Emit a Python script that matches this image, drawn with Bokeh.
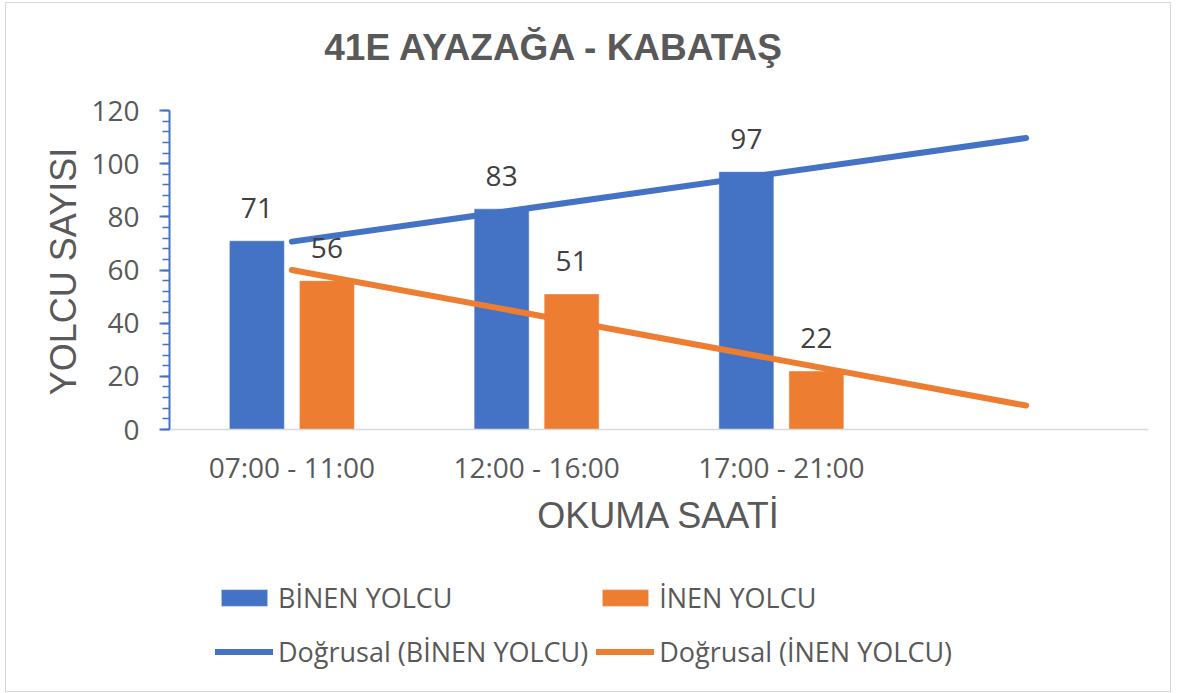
import numpy as np
from bokeh.plotting import figure
from bokeh.models import (ColumnDataSource, Legend, LegendItem, Label,
                          FixedTicker, SingleIntervalTicker, Range1d)
from bokeh.core.properties import value
from bokeh.embed import file_html
from bokeh.resources import INLINE

# ---------------- data ----------------
categories = ["07:00 - 11:00", "12:00 - 16:00", "17:00 - 21:00"]
binen_yolcu = [71, 83, 97]
inen_yolcu = [56, 51, 22]
series_names = ["BİNEN YOLCU", "İNEN YOLCU"]
trend_names = ["Doğrusal (BİNEN YOLCU)", "Doğrusal (İNEN YOLCU)"]
forecast_forward = 1  # Excel trendline "forward" periods
y_ticks_interval = 20
y_max = 120

title_text = "41E AYAZAĞA - KABATAŞ"
x_label = "OKUMA SAATİ"
y_label = "YOLCU SAYISI"

# ---------------- styles / layout (pixels, figure coords) ----------------
BLUE = "#4472C4"
ORANGE = "#ED7D31"
GREY_TXT = "#595959"
DARK_TXT = "#404040"
TICK_FONT = "Open Sans"
HEAD_FONT = "Liberation Sans"

W, H = 1166, 690
PLOT_L, PLOT_R = 163, 1142      # x-axis extent
PLOT_T, PLOT_B = 107, 426       # y-axis extent (y_max .. 0)

n_slots = len(categories) + forecast_forward
px_x = (PLOT_R - PLOT_L) / n_slots
px_y = (PLOT_B - PLOT_T) / y_max
x0 = 0.5 - PLOT_L / px_x
x1 = 0.5 + n_slots + (W - PLOT_R) / px_x
y1 = y_max + PLOT_T / px_y
y0 = -(H - PLOT_B) / px_y

def dx(px):   # figure px -> data x
    return 0.5 + (px - PLOT_L) / px_x

def dy(py):   # figure px -> data y
    return (PLOT_B - py) / px_y

x_idx = np.arange(1, len(categories) + 1)
bar_off = 35 / px_x
bar_w = 55 / px_x

p = figure(width=W, height=H, output_backend="svg", toolbar_location=None,
           x_range=Range1d(x0, x1), y_range=Range1d(y0, y1),
           min_border=0, min_border_left=0, min_border_right=0,
           min_border_top=0, min_border_bottom=0,
           background_fill_color="white", border_fill_color="white")
p.outline_line_color = None
p.grid.visible = False
p.styles = {"border": "1px solid #D9D9D9", "margin-left": "5px", "margin-top": "2px"}

src = ColumnDataSource(dict(
    xb=x_idx - bar_off, xi=x_idx + bar_off,
    b=binen_yolcu, i=inen_yolcu,
    bl=[str(v) for v in binen_yolcu], il=[str(v) for v in inen_yolcu]))

r_b = p.vbar(x="xb", top="b", width=bar_w, source=src, fill_color=BLUE,
             line_color="white", line_alpha=0.45, line_width=1)
r_i = p.vbar(x="xi", top="i", width=bar_w, source=src, fill_color=ORANGE,
             line_color="white", line_alpha=0.45, line_width=1)

# linear trendlines (least squares), extended forward
xt = np.array([x_idx[0], x_idx[-1] + forecast_forward], dtype=float)
cb = np.polyfit(x_idx, binen_yolcu, 1)
ci = np.polyfit(x_idx, inen_yolcu, 1)
r_tb = p.line(xt, np.polyval(cb, xt), line_color=BLUE, line_width=6, line_cap="round")
r_ti = p.line(xt, np.polyval(ci, xt), line_color=ORANGE, line_width=6, line_cap="round")

# data labels
for xcol, ycol, tcol in (("xb", "b", "bl"), ("xi", "i", "il")):
    p.text(x=xcol, y=ycol, text=tcol, source=src, text_align="center",
           text_baseline="alphabetic", y_offset=-33,
           text_font=value(TICK_FONT), text_font_size="28px", text_color=DARK_TXT)

# x axis (at y = 0)
xa = p.xaxis[0]
xa.fixed_location = 0
xa.bounds = (0.5, n_slots + 0.5)
xa.ticker = FixedTicker(ticks=list(x_idx))
xa.major_label_overrides = {int(k): c for k, c in zip(x_idx, categories)}
xa.major_tick_line_color = None
xa.minor_tick_line_color = None
xa.axis_line_color = "#D9D9D9"
xa.axis_line_width = 1.5
xa.major_label_text_font = TICK_FONT
xa.major_label_text_font_size = "28px"
xa.major_label_text_color = GREY_TXT
xa.major_label_standoff = 12

# y axis (at left of the category slots)
ya = p.yaxis[0]
ya.fixed_location = 0.5
ya.bounds = (0, y_max)
ya.ticker = SingleIntervalTicker(interval=y_ticks_interval, num_minor_ticks=5)
ya.axis_line_color = BLUE
ya.axis_line_width = 2
ya.major_tick_line_color = BLUE
ya.major_tick_line_width = 2
ya.major_tick_out = 10
ya.major_tick_in = 0
ya.minor_tick_line_color = BLUE
ya.minor_tick_line_width = 1.5
ya.minor_tick_out = 7
ya.minor_tick_in = 0
ya.major_label_text_font = TICK_FONT
ya.major_label_text_font_size = "28px"
ya.major_label_text_color = GREY_TXT
ya.major_label_standoff = 20

# axis titles and chart title
p.add_layout(Label(x=dx(57), y=dy(268), text=y_label, angle=np.pi / 2,
                   text_font=HEAD_FONT, text_font_size="36px", text_color=GREY_TXT,
                   text_align="center", text_baseline="middle"))
p.add_layout(Label(x=(0.5 + n_slots + 0.5) / 2, y=dy(512), text=x_label,
                   text_font=HEAD_FONT, text_font_size="36px", text_color=GREY_TXT,
                   text_align="center", text_baseline="middle"))
p.add_layout(Label(x=dx(548), y=dy(44), text=title_text,
                   text_font=HEAD_FONT, text_font_size="37px", text_font_style="bold",
                   text_color=GREY_TXT, text_align="center", text_baseline="alphabetic"))

# legend
legend = Legend(items=[LegendItem(label=series_names[0], renderers=[r_b]),
                       LegendItem(label=series_names[1], renderers=[r_i]),
                       LegendItem(label=trend_names[0], renderers=[r_tb]),
                       LegendItem(label=trend_names[1], renderers=[r_ti])],
                location=(209, 19), ncols=2, orientation="horizontal",
                glyph_width=58, glyph_height=21, label_standoff=5, spacing=8,
                label_height=46, padding=0, margin=0,
                border_line_alpha=0, background_fill_alpha=0,
                label_text_font=TICK_FONT, label_text_font_size="27px",
                label_text_color=GREY_TXT)
p.add_layout(legend)

open("out.html", "w").write(file_html(p, INLINE))
